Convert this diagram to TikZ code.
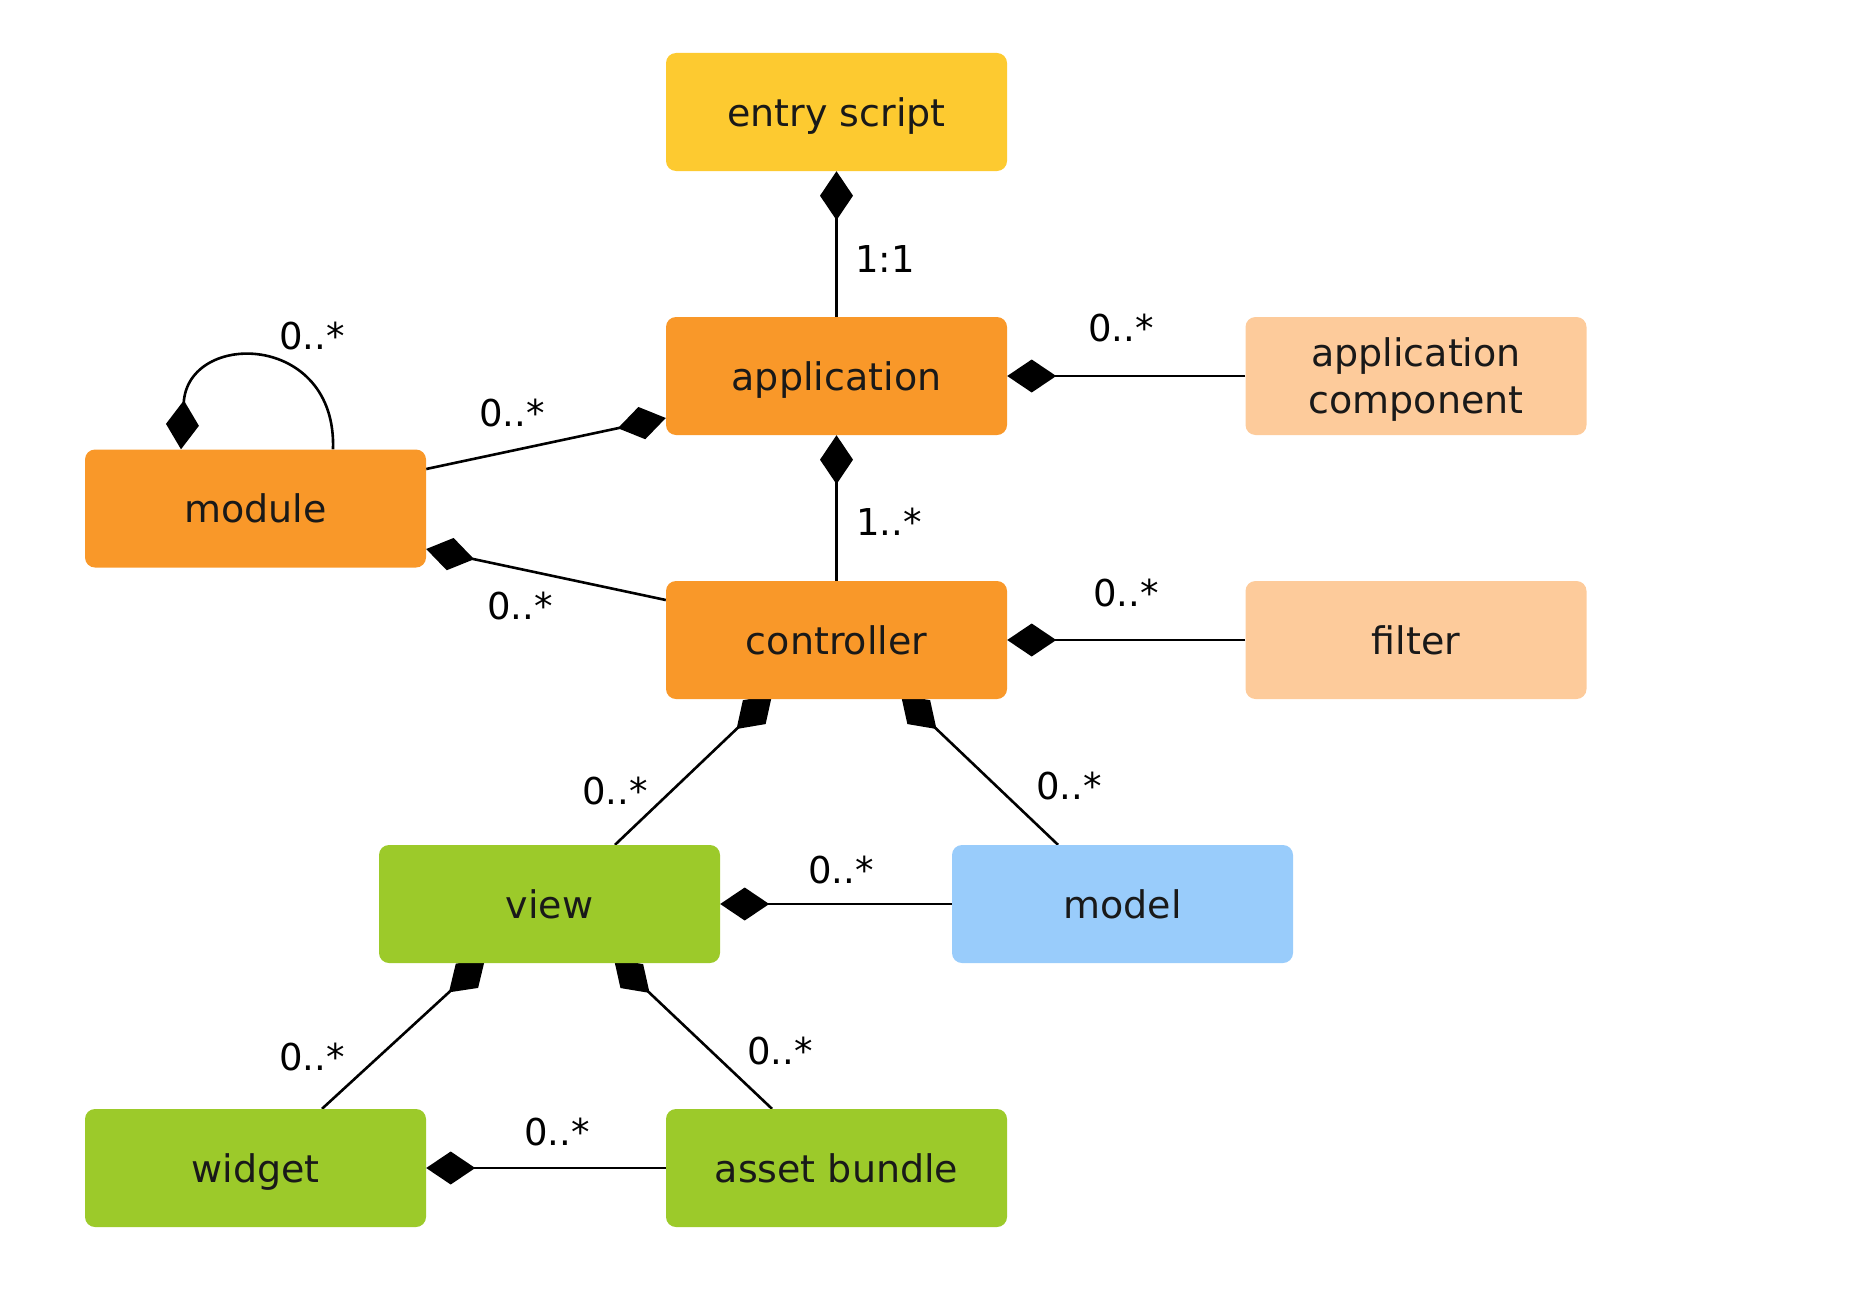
\documentclass[tikz,border=0pt]{standalone}
\usepackage{fontspec}
\setmainfont{DejaVu Sans}
\usetikzlibrary{arrows.meta,backgrounds}
\definecolor{cyellow}{RGB}{253,202,48}
\definecolor{corange}{RGB}{249,152,41}
\definecolor{clight}{RGB}{253,203,155}
\definecolor{cgreen}{RGB}{156,202,42}
\definecolor{cblue}{RGB}{153,204,251}
\begin{document}
\begin{tikzpicture}[x=1pt,y=-1pt,
  box/.style={rectangle,rounded corners=10pt,minimum width=341pt,minimum height=118pt,inner sep=0pt,align=center,
    text depth=0pt,font=\fontsize{38}{47}\selectfont,text=black!90},
  lbl/.style={inner sep=0pt,font=\fontsize{37}{44}\selectfont},
  comp/.style={line width=2.6pt,-{Diamond[length=49pt,width=33pt]}}]
\useasboundingbox (0,0) rectangle (1862,1306);
\node[box,fill=cyellow] (entry) at (836.5,112) {entry script};
\node[box,fill=corange] (app) at (836.5,376) {application};
\node[box,fill=clight] (appcomp) at (1416,376) {application\\component};
\node[box,fill=corange] (module) at (255.5,508.5) {module};
\node[box,fill=corange] (ctrl) at (836.5,640) {controller};
\node[box,fill=clight] (filter) at (1416,640) {filter};
\node[box,fill=cgreen] (view) at (549.5,904) {view};
\node[box,fill=cblue] (model) at (1122.5,904) {model};
\node[box,fill=cgreen] (widget) at (255.5,1168) {widget};
\node[box,fill=cgreen] (asset) at (836.5,1168) {asset bundle};
\begin{pgfonlayer}{background}
\draw[comp] (app.north) -- (entry.south);
\draw[comp] (appcomp.west) -- (app.east);
\draw[comp] ([yshift=39.5pt]module.east) -- ([yshift=-42pt]app.west);
\draw[comp] ([yshift=40pt]ctrl.west) -- ([yshift=-40.5pt]module.east);
\draw[comp] (ctrl.north) -- (app.south);
\draw[comp] (filter.west) -- (ctrl.east);
\draw[comp] ([xshift=65.5pt]view.north) -- ([xshift=-64.5pt,yshift=4pt]ctrl.south);
\draw[comp] ([xshift=-64.5pt]model.north) -- ([xshift=64.5pt,yshift=4pt]ctrl.south);
\draw[comp] (model.west) -- (view.east);
\draw[comp] ([xshift=66.5pt]widget.north) -- ([xshift=-64.5pt,yshift=4pt]view.south);
\draw[comp] ([xshift=-64.5pt]asset.north) -- ([xshift=64.5pt,yshift=4pt]view.south);
\draw[comp] (asset.west) -- (widget.east);
\coordinate (loopa) at ([xshift=77.5pt]module.north);
\coordinate (loopb) at ([xshift=-74.5pt]module.north);
\draw[comp] (loopa) .. controls (337,332) and (188,330) .. (loopb);
\end{pgfonlayer}
\node[lbl] (l1) at (885,259) {1:1};
\node[lbl] (l2) at (1121,328) {0..*};
\node[lbl] (l3) at (512,413) {0..*};
\node[lbl] (l4) at (312,336) {0..*};
\node[lbl] (l5) at (520,606) {0..*};
\node[lbl] (l6) at (889,522) {1..*};
\node[lbl] (l7) at (1126,593) {0..*};
\node[lbl] (l8) at (615,791) {0..*};
\node[lbl] (l9) at (1069,786) {0..*};
\node[lbl] (l10) at (841,870) {0..*};
\node[lbl] (l11) at (312,1057) {0..*};
\node[lbl] (l12) at (780,1051) {0..*};
\node[lbl] (l13) at (557,1132) {0..*};
\end{tikzpicture}
\end{document}
